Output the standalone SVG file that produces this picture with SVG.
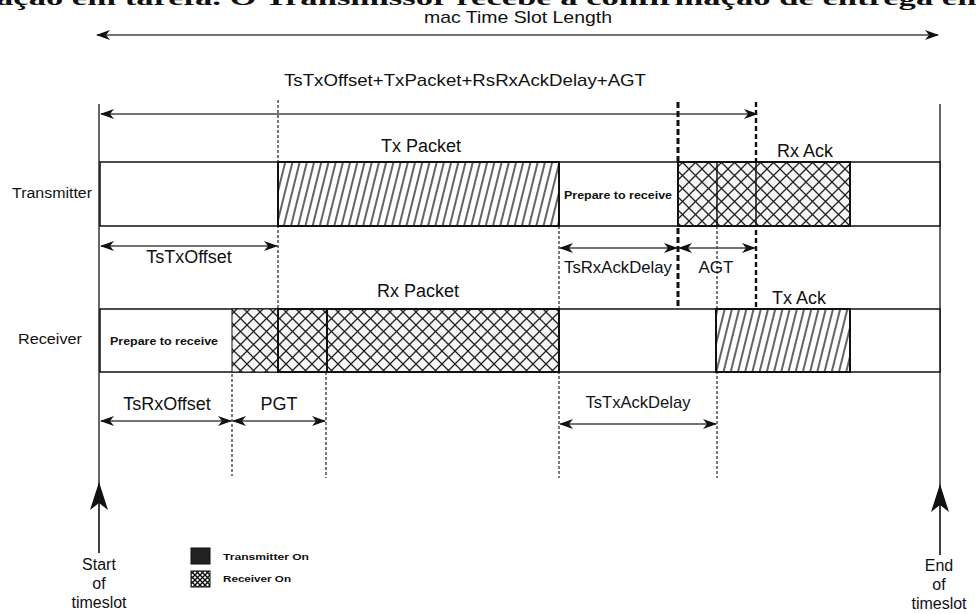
<svg xmlns="http://www.w3.org/2000/svg" width="976" height="614" viewBox="0 0 976 614">
<style>
text{font-family:"Liberation Sans",Arial,sans-serif;fill:#111}
.lbl{font-size:17px;text-anchor:middle}
.row{font-size:14px}
.small{font-size:10px;font-weight:bold}
.leg{font-size:9px;font-weight:bold}
.se{font-size:16px;text-anchor:middle}
.box{fill:#fff;stroke:#111;stroke-width:1.5}
.hatch{fill:url(#diag);stroke:#111;stroke-width:2}
.cross{fill:url(#xh);stroke:#111;stroke-width:2}
.dim{stroke:#444;stroke-width:1.5;fill:none;marker-start:url(#ah);marker-end:url(#ah)}
.dash{stroke:#222;stroke-width:1.2;stroke-dasharray:3 2;fill:none}
.bdash{stroke:#111;stroke-width:3;stroke-dasharray:6 3;fill:none}
.mdash{stroke:#111;stroke-width:2.4;stroke-dasharray:5 3;fill:none}
.solid{stroke:#333;stroke-width:1.5;fill:none}
</style>
<defs>
<pattern id="diag" patternUnits="userSpaceOnUse" width="7" height="20" patternTransform="rotate(14)">
<rect width="7" height="20" fill="#fff"/>
<line x1="1" y1="0" x2="1" y2="20" stroke="#111" stroke-width="1.3"/>
</pattern>
<pattern id="xh" patternUnits="userSpaceOnUse" width="13" height="13">
<rect width="13" height="13" fill="#f6f6f6"/>
<path d="M0,0 L13,13 M13,0 L0,13" stroke="#222" stroke-width="1.3" fill="none"/>
</pattern>
<pattern id="xs" patternUnits="userSpaceOnUse" width="5" height="5">
<rect width="5" height="5" fill="#fff"/>
<path d="M0,0 L5,5 M5,0 L0,5" stroke="#111" stroke-width="1.4"/>
</pattern>
<marker id="ah" viewBox="0 0 14 10" refX="13" refY="5" markerWidth="14" markerHeight="10" markerUnits="userSpaceOnUse" orient="auto-start-reverse">
<path d="M0,0 L14,5 L0,10 L4,5 Z" fill="#111"/>
</marker>
<marker id="up" viewBox="0 0 28 18" refX="27" refY="9" markerWidth="28" markerHeight="18" markerUnits="userSpaceOnUse" orient="auto">
<path d="M0,0 L28,9 L0,18 L7,9 Z" fill="#111"/>
</marker>
</defs>

<text x="-4" y="5" style="font-family:'Liberation Serif',serif;font-size:20px;font-weight:bold" textLength="990" lengthAdjust="spacingAndGlyphs">ação em tarefa. O Transmissor recebe a confirmação de entrega em</text>

<g id="connectors">
<line class="dim" x1="97" y1="35" x2="938" y2="35"/>
<text class="lbl" x="518" y="23" textLength="188" lengthAdjust="spacingAndGlyphs">mac Time Slot Length</text>
<line class="dim" x1="101" y1="114" x2="757" y2="114"/>
<text class="lbl" x="465" y="86" textLength="362" lengthAdjust="spacingAndGlyphs">TsTxOffset+TxPacket+RsRxAckDelay+AGT</text>

<line class="solid" x1="99" y1="104" x2="99" y2="553"/>
<line class="solid" x1="99" y1="553" x2="99" y2="483" marker-end="url(#up)"/>
<line class="solid" x1="940" y1="104" x2="940" y2="555"/>
<line class="solid" x1="940" y1="555" x2="940" y2="485" marker-end="url(#up)"/>

<line class="dash" x1="278" y1="100" x2="278" y2="309"/>
<line class="dash" x1="559" y1="226" x2="559" y2="478"/>
<line class="dash" x1="232" y1="309" x2="232" y2="476"/>
<line class="dash" x1="326" y1="372" x2="326" y2="478"/>
<line class="dash" x1="717" y1="226" x2="717" y2="478"/>
<line class="bdash" x1="678" y1="102" x2="678" y2="309"/>
<line class="mdash" x1="756" y1="102" x2="756" y2="309"/>

<line class="dim" x1="101" y1="246" x2="277" y2="246"/>
<line class="dim" x1="560" y1="248" x2="677" y2="248"/>
<line class="dim" x1="679" y1="248" x2="755" y2="248"/>
<line class="dim" x1="101" y1="421" x2="231" y2="421"/>
<line class="dim" x1="233" y1="421" x2="325" y2="421"/>
<line class="dim" x1="560" y1="424" x2="716" y2="424"/>

<text class="lbl" x="189" y="263" style="font-size:18px">TsTxOffset</text>
<text class="lbl" x="618" y="273" textLength="108" lengthAdjust="spacingAndGlyphs">TsRxAckDelay</text>
<text class="lbl" x="716" y="273">AGT</text>
<text class="lbl" x="167" y="410" style="font-size:18px">TsRxOffset</text>
<text class="lbl" x="279" y="410" style="font-size:18px">PGT</text>
<text class="lbl" x="638" y="408" textLength="105" lengthAdjust="spacingAndGlyphs">TsTxAckDelay</text>
</g>

<g id="transmitter">
<rect class="box" x="100" y="162" width="840" height="64"/>
<rect class="hatch" x="278" y="162" width="281" height="64"/>
<rect class="cross" x="678" y="162" width="172" height="64"/>
<line x1="717" y1="162" x2="717" y2="226" stroke="#111" stroke-width="1.5"/>
<line x1="756" y1="162" x2="756" y2="226" stroke="#111" stroke-width="1.5"/>
<text class="row" x="12" y="198" textLength="80" lengthAdjust="spacingAndGlyphs">Transmitter</text>
<text class="lbl" x="421" y="152" style="font-size:18px">Tx Packet</text>
<text class="small" x="564" y="199" textLength="108" lengthAdjust="spacingAndGlyphs">Prepare to receive</text>
<text class="lbl" x="805" y="157" style="font-size:18px">Rx Ack</text>
</g>

<g id="receiver">
<rect class="box" x="100" y="309" width="840" height="63"/>
<rect x="232" y="309" width="46" height="63" fill="url(#xh)" stroke="#111" stroke-width="1"/>
<rect class="cross" x="278" y="309" width="281" height="63"/>
<line x1="327" y1="309" x2="327" y2="372" stroke="#111" stroke-width="2"/>
<rect class="hatch" x="716" y="309" width="134" height="63"/>
<text class="row" x="18" y="344" textLength="64" lengthAdjust="spacingAndGlyphs">Receiver</text>
<text class="small" x="110" y="345" textLength="108" lengthAdjust="spacingAndGlyphs">Prepare to receive</text>
<text class="lbl" x="418" y="297" style="font-size:18px">Rx Packet</text>
<text class="lbl" x="799" y="304" style="font-size:18px">Tx Ack</text>
</g>

<g id="start">
<text class="se" x="99" y="570">Start</text>
<text class="se" x="99" y="589">of</text>
<text class="se" x="99" y="608">timeslot</text>
</g>
<g id="end">
<text class="se" x="939" y="571">End</text>
<text class="se" x="939" y="590">of</text>
<text class="se" x="939" y="609">timeslot</text>
</g>

<g id="legend">
<rect x="191" y="548" width="19" height="16" fill="#222" stroke="#111"/>
<text class="leg" x="223" y="560" textLength="86" lengthAdjust="spacingAndGlyphs">Transmitter On</text>
<rect x="191" y="571" width="19" height="16" fill="url(#xs)" stroke="#111"/>
<text class="leg" x="223" y="582" textLength="68" lengthAdjust="spacingAndGlyphs">Receiver On</text>
</g>
</svg>
